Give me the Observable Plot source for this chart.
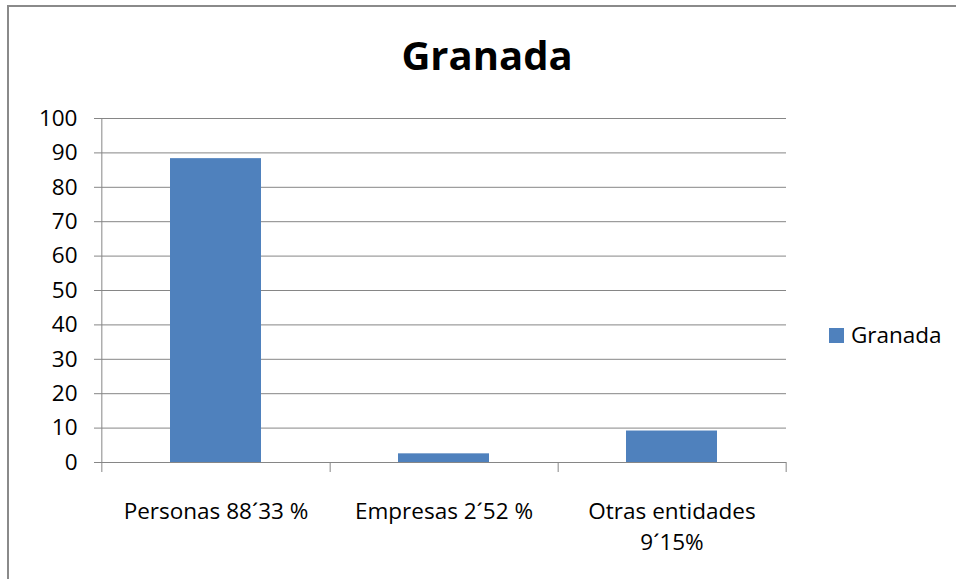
<!DOCTYPE html>
<html>
<head>
<meta charset="utf-8">
<script src="https://cdn.jsdelivr.net/npm/d3@7"></script>
<script src="https://cdn.jsdelivr.net/npm/@observablehq/plot@0.6"></script>
<style>
  html, body { margin: 0; padding: 0; background: #fff; }
  #wrap { position: relative; width: 956px; height: 579px; overflow: hidden; font-family: "Open Sans", sans-serif; }
  #frame { position: absolute; left: 7px; top: 5px; width: 960px; height: 600px; border-left: 2px solid #8a8a8a; border-top: 2px solid #8a8a8a; box-sizing: border-box; }
  #title { position: absolute; left: 0; width: 974px; top: 35px; text-align: center; font-weight: bold; font-size: 40px; color: #000; line-height: 1; }
  #legend { position: absolute; left: 829px; top: 320px; font-size: 22.5px; color: #000; display: flex; align-items: center; line-height: 30px; }
  #legend .sw { width: 15px; height: 15px; background: #4F81BD; margin-right: 7px; }
  #chart { position: absolute; left: 0; top: 0; }
</style>
</head>
<body>
<div id="wrap">
  <div id="frame"></div>
  <div id="chart"></div>
  <div id="title"></div>
  <div id="legend"><div class="sw"></div><span id="legtext"></span></div>
</div>
<script>
const titleText = "Granada";
const seriesName = "Granada";
const categories = ["Personas 88´33 %", "Empresas 2´52 %", "Otras entidades\n9´15%"];
const values = [88.33, 2.52, 9.15];
const yTicks = [0, 10, 20, 30, 40, 50, 60, 70, 80, 90, 100];

const data = categories.map((c, i) => ({category: c, value: values[i]}));

document.getElementById("title").textContent = titleText;
document.getElementById("legtext").textContent = seriesName;

const W = 956, H = 579;
const mL = 101, mR = 170, mT = 118, mB = 117;
const step = (W - mL - mR) / categories.length;
const gray = "#868686";
const fs = 22.5;

const chart = Plot.plot({
  width: W,
  height: H,
  marginLeft: mL,
  marginRight: mR,
  marginTop: mT,
  marginBottom: mB,
  style: {fontFamily: "'Open Sans', sans-serif", fontSize: fs + "px", color: "#000", background: "transparent"},
  x: {domain: categories, paddingInner: 0.6, paddingOuter: 0.3, label: null},
  y: {domain: [0, 100], label: null},
  marks: [
    Plot.ruleY(yTicks, {stroke: gray, strokeWidth: 1}),
    Plot.barY(data, {x: "category", y: "value", fill: "#4F81BD"}),
    // vertical value axis line, extended below zero like a category tick
    Plot.ruleX([categories[0]], {y1: 100, y2: 0, insetBottom: -10, dx: -step / 2, stroke: gray}),
    // category boundary ticks
    Plot.ruleX(categories, {y1: 0, y2: 0, insetBottom: -10, dx: step / 2, stroke: gray}),
    Plot.axisY({ticks: yTicks, tickSize: 7, tickPadding: 17, stroke: gray, fill: "#000", fontSize: fs, tickFormat: d => String(d)}),
    Plot.axisX({tickSize: 0, tickPadding: 34, fill: "#000", fontSize: fs, lineHeight: 1.38})
  ]
});
document.getElementById("chart").appendChild(chart);
</script>
</body>
</html>
